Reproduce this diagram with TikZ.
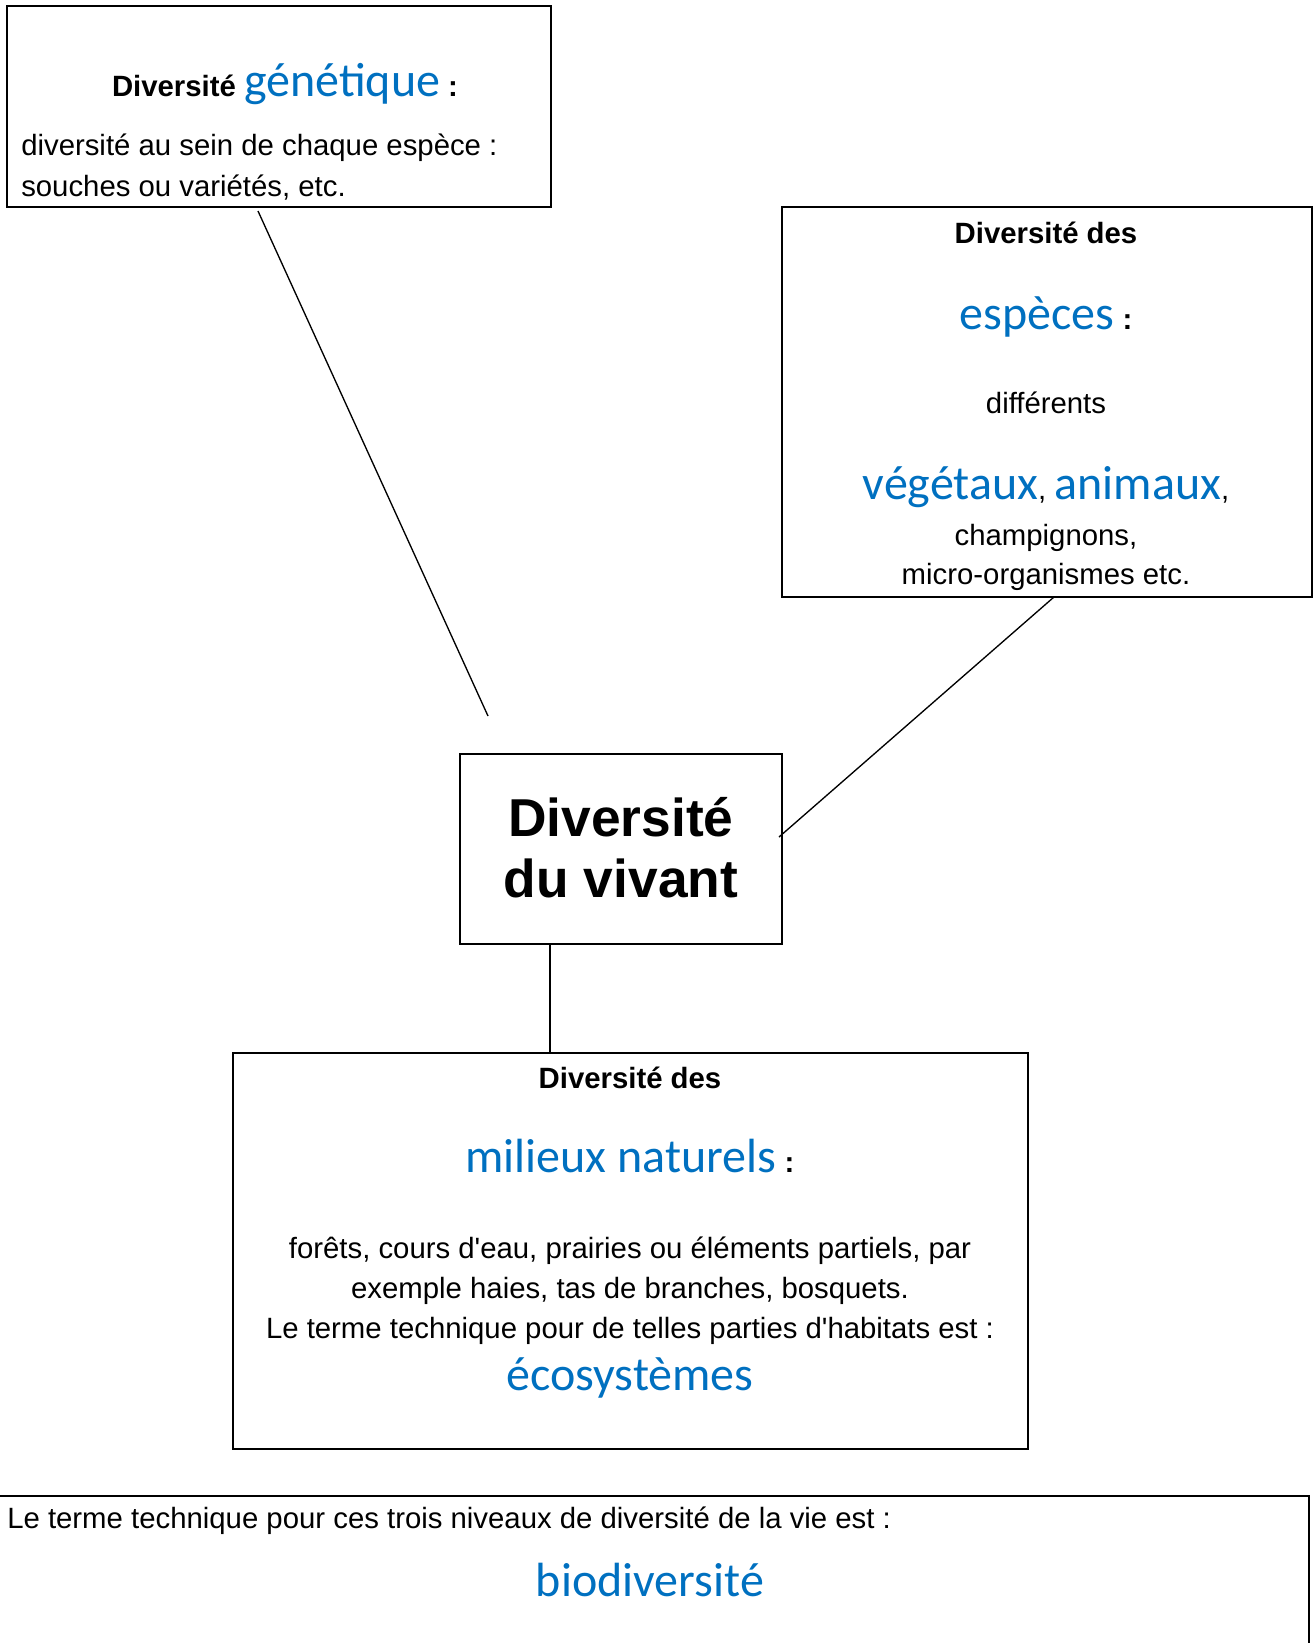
\documentclass[tikz,border=0pt]{standalone}
\usepackage{fontspec}
\setmainfont{Liberation Sans}
\newfontfamily\calibri{Carlito}
\usepackage{xcolor}
\usepackage{tikz}
\usetikzlibrary{positioning}

\definecolor{wordblue}{HTML}{0070C0}
\newcommand{\bodyfont}{\fontsize{22}{30}\selectfont}
\newcommand{\blueword}[1]{{\calibri\mdseries\fontsize{36}{40}\selectfont\color{wordblue}#1}}

\begin{document}
\begin{tikzpicture}[
		x=0.75pt, y=-0.75pt,
		levelbox/.style={
			draw,
			line width=1.5pt,
			inner sep=0pt
		},
		line/.style={line width=1pt},
		textline/.style={anchor=mid, inner sep=0pt, font=\bodyfont},
		headline/.style={anchor=mid, inner sep=0pt, font=\bodyfont\bfseries}
	]
		\useasboundingbox (0,0) rectangle (1316,1643);

		% boxes
		\node[levelbox, minimum width=408pt, minimum height=150.75pt] (genbox) at (279,106.5) {};
		\node[levelbox, minimum width=397.5pt, minimum height=292.5pt] (espbox) at (1047,402) {};
		\node[levelbox, minimum width=241.5pt, minimum height=142.5pt] (vivbox) at (621,849) {};
		\node[levelbox, minimum width=596.25pt, minimum height=297pt] (milbox) at (630.5,1251) {};
		\node[levelbox, minimum width=983.25pt, minimum height=153pt] (biobox) at (653.5,1598) {};

		% genetic
		\node[headline] (gentitle) at (285,93) {Diversité \blueword{génétique} :};
		\node[textline, anchor=west] (genline1) at (21,148) {diversité au sein de chaque espèce :};
		\node[textline, anchor=west] (genline2) at (21,188) {souches ou variétés, etc.};

		% species
		\node[headline] (esptitle) at (1046,240) {Diversité des};
		\node[headline] (espword) at (1046,326) {\blueword{espèces} :};
		\node[textline] (espline1) at (1046,410) {différents};
		\node[textline] (espline2) at (1046,496) {\blueword{végétaux}, \blueword{animaux},};
		\node[textline] (espline3) at (1046,542) {champignons,};
		\node[textline] (espline4) at (1046,581) {micro-organismes etc.};

		% centre
		\node[font=\fontsize{40}{46}\selectfont\bfseries, align=center, inner sep=0pt] (vivant) at (621,848) {Diversité\\du vivant};

		% habitats
		\node[headline] (miltitle) at (630,1085) {Diversité des};
		\node[headline] (milword) at (630,1169) {\blueword{milieux naturels} :};
		\node[textline] (milline1) at (630,1255) {forêts, cours d\textquotesingle eau, prairies ou éléments partiels, par};
		\node[textline] (milline2) at (630,1295) {exemple haies, tas de branches, bosquets.};
		\node[textline] (milline3) at (630,1335) {Le terme technique pour de telles parties d\textquotesingle habitats est :};
		\node[anchor=mid, inner sep=0pt] (milword2) at (630,1387) {\blueword{écosystèmes}};

		% summary
		\node[textline, anchor=west] (bioline) at (7,1521) {Le terme technique pour ces trois niveaux de diversité de la vie est :};
		\node[anchor=mid, inner sep=0pt] (bioword) at (650,1593) {\blueword{biodiversité}};

		% connectors
		\coordinate (genfoot) at (258,211);
		\coordinate (vivhead) at (488,716);
		\coordinate (espfoot) at (1054,597);
		\coordinate (vivside) at (779,837);
		\coordinate (vivfoot) at (550,944);

		\draw[line] (genfoot) -- (vivhead);
		\draw[line] (espfoot) -- (vivside);
		\draw[line] (vivfoot) -- (vivfoot |- milbox.north);
	\end{tikzpicture}
\end{document}
